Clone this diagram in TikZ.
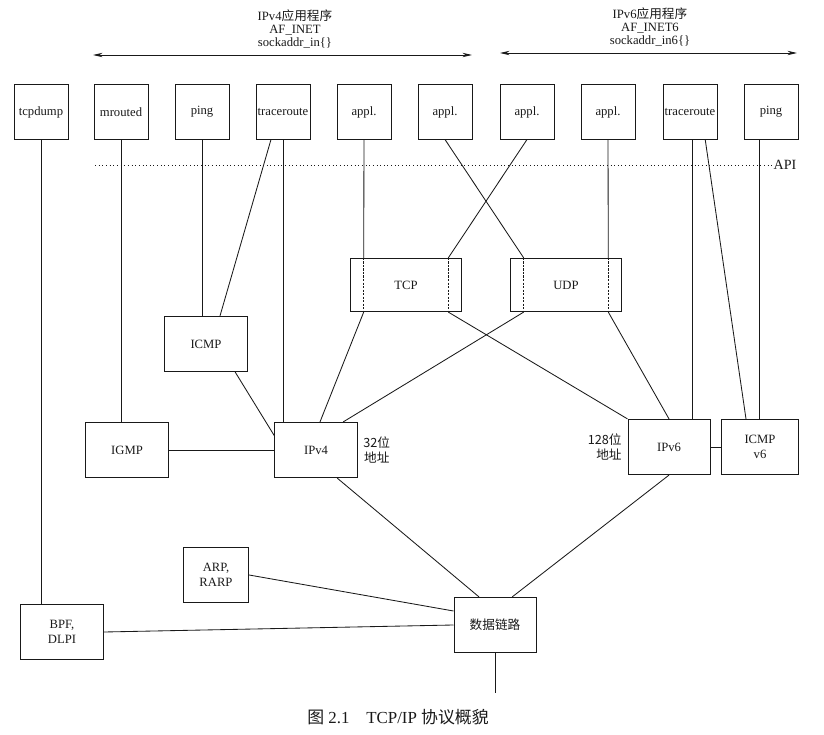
\documentclass[tikz,border=0pt]{standalone}
\usepackage{fontspec}
\setmainfont{Liberation Serif}
\newfontfamily\cjk{Noto Sans CJK SC}
\usetikzlibrary{positioning,arrows.meta}

\definecolor{ink}{RGB}{25, 25, 25}

\tikzset{
    box/.style      = {draw=ink, line width=0.7pt, minimum width=1.35cm, minimum height=1.35cm,
                       inner sep=1pt, font=\small, align=center, text=ink},
    proto/.style    = {box, minimum width=2.05cm, minimum height=1.38cm},
    transport/.style= {box, minimum width=2.75cm, minimum height=1.33cm},
    link/.style     = {draw=ink, line width=0.6pt},
    famarrow/.style = {draw=ink, line width=0.6pt,
                       {Stealth[length=2.4mm,width=1.1mm]}-{Stealth[length=2.4mm,width=1.1mm]}},
    notelbl/.style  = {font=\small, align=center, inner sep=1pt, text=ink},
}

\begin{document}
\begin{tikzpicture}[x=0.025cm, y=-0.025cm]
    \useasboundingbox (0,0) rectangle (824,735);

    % address families
    \coordinate (v4l) at (93,55);
    \coordinate (v4r) at (472,55);
    \coordinate (v6l) at (500,53);
    \coordinate (v6r) at (797,53);
    \draw[famarrow] (v4l) -- (v4r);
    \draw[famarrow] (v6l) -- (v6r);
    \node[notelbl] (v4lbl) at (295,29) {IPv4{\cjk 应用程序}\\[-2pt]AF\_INET\\[-2pt]sockaddr\_in\{\}};
    \node[notelbl] (v6lbl) at (650,27) {IPv6{\cjk 应用程序}\\[-2pt]AF\_INET6\\[-2pt]sockaddr\_in6\{\}};

    % applications
    \node[box] (tcpdump) at (41,112)  {tcpdump};
    \node[box] (mrouted) at (121,112) {mrouted};
    \node[box] (ping4)   at (202,112) {ping};
    \node[box] (trace4)  at (283,112) {traceroute};
    \node[box] (appla)   at (364,112) {appl.};
    \node[box] (applb)   at (445,112) {appl.};
    \node[box] (applc)   at (527,112) {appl.};
    \node[box] (appld)   at (608,112) {appl.};
    \node[box] (trace6)  at (690,112) {traceroute};
    \node[box] (ping6)   at (771,112) {ping};

    % API boundary
    \coordinate (apil) at (95,165);
    \node[notelbl, anchor=west, font=\normalsize] (api) at (772,165) {API};
    \draw[ink, line width=0.6pt, dotted] (apil) -- (api.west);

    % transport
    \node[transport] (tcp) at (406,285) {TCP};
    \node[transport] (udp) at (566,285) {UDP};
    \foreach \t in {tcp,udp}{
        \draw[ink, line width=0.5pt, dash pattern=on 1.5pt off 1pt]
            ([xshift=0.33cm]\t.north west) -- ([xshift=0.33cm]\t.south west)
            ([xshift=-0.33cm]\t.north east) -- ([xshift=-0.33cm]\t.south east);
    }

    % network layer
    \node[proto] (icmp4) at (206,344) {ICMP};
    \node[proto] (igmp)  at (127,450) {IGMP};
    \node[proto] (ipv4)  at (316,450) {IPv4};
    \node[proto] (ipv6)  at (669,447) {IPv6};
    \node[proto, minimum width=1.92cm] (icmp6) at (760,447) {ICMP\\v6};
    \node[notelbl, right=3pt of ipv4, font=\small\cjk] (bits4) {32位\\地址};
    \node[notelbl, left=3pt of ipv6, font=\small\cjk, align=right] (bits6) {128位\\地址};

    % link layer
    \node[proto, minimum width=1.63cm] (arp) at (216,575) {ARP,\\RARP};
    \node[proto, minimum width=2.08cm] (bpf) at (62,632)  {BPF,\\DLPI};
    \node[proto, font=\small\cjk]      (dl)  at (495,625) {数据链路};
    \coordinate (dlout) at (495,693);

    % connections
    \draw[link] (tcpdump.south) -- (tcpdump.south |- bpf.north);
    \draw[link] (mrouted.south) -- (mrouted.south |- igmp.north);
    \draw[link] (ping4.south) -- (ping4.south |- icmp4.north);
    \draw[link] ([xshift=-0.3cm]trace4.south) -- ([xshift=0.35cm]icmp4.north);
    \draw[link] (trace4.south) -- (trace4.south |- ipv4.north);
    \draw[link] (appla.south) -- ([xshift=0.33cm]tcp.north west);
    \draw[link] (applb.south) -- ([xshift=0.33cm]udp.north west);
    \draw[link] (applc.south) -- ([xshift=-0.33cm]tcp.north east);
    \draw[link] (appld.south) -- ([xshift=-0.33cm]udp.north east);
    \draw[link] ([xshift=0.05cm]trace6.south) -- ([xshift=0.05cm]trace6.south |- ipv6.north);
    \draw[link] ([xshift=0.38cm]trace6.south) -- ([xshift=-0.35cm]icmp6.north);
    \draw[link] ([xshift=-0.3cm]ping6.south) -- ([xshift=-0.3cm]ping6.south |- icmp6.north);

    \draw[link] ([xshift=0.33cm]tcp.south west) -- ([xshift=0.1cm]ipv4.north);
    \draw[link] ([xshift=-0.33cm]tcp.south east) -- (ipv6.north west);
    \draw[link] ([xshift=0.33cm]udp.south west) -- ([xshift=0.68cm]ipv4.north);
    \draw[link] ([xshift=-0.33cm]udp.south east) -- (ipv6.north);

    \draw[link] ([xshift=0.73cm]icmp4.south) -- ([yshift=0.35cm]ipv4.west);
    \draw[link] (igmp.east) -- (ipv4.west);
    \draw[link] (ipv6.east) -- (icmp6.west);

    \draw[link] ([xshift=0.53cm]ipv4.south) -- ([xshift=-0.4cm]dl.north);
    \draw[link] (ipv6.south) -- ([xshift=0.43cm]dl.north);
    \draw[link] (arp.east) -- ([yshift=0.35cm]dl.west);
    \draw[link] (bpf.east) -- (dl.west);
    \draw[link] (dl.south) -- (dlout);

    % caption
    \node[font=\large, text=ink] (caption) at (398,717) {{\cjk 图} 2.1\quad TCP/IP {\cjk 协议概貌}};
\end{tikzpicture}
\end{document}
